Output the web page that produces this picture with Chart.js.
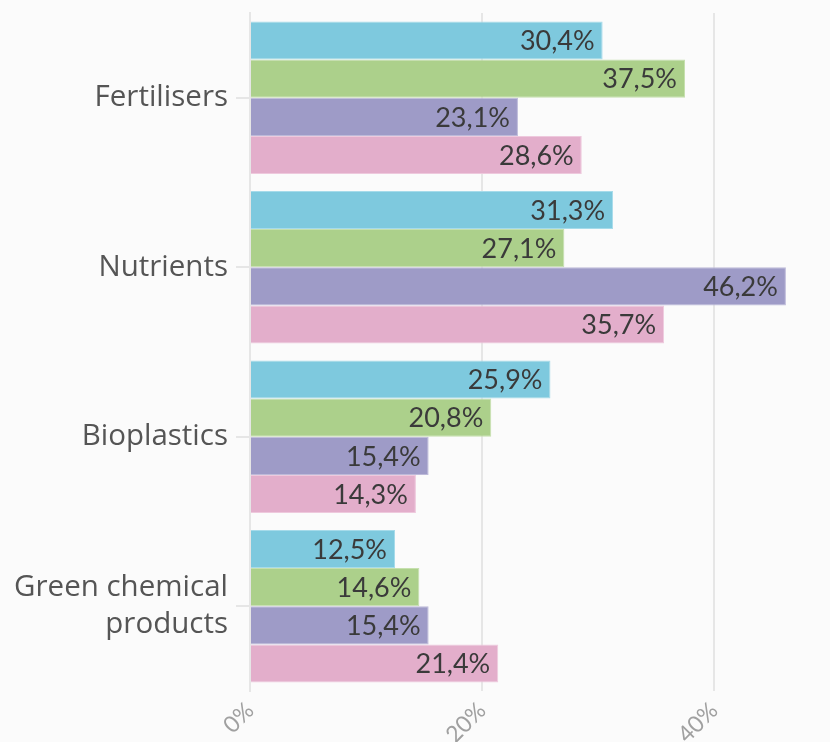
<!DOCTYPE html>
<html>
<head>
<meta charset="utf-8">
<script src="https://cdn.jsdelivr.net/npm/chart.js@4"></script>
<style>
  html, body { margin: 0; padding: 0; background: #fbfbfb; }
  #wrap { width: 830px; height: 742px; }
</style>
</head>
<body>
<div id="wrap"><canvas id="chart"></canvas></div>
<script>
const categories = ["Fertilisers", "Nutrients", "Bioplastics", ["Green chemical", "products"]];
const serieCyan = [30.4, 31.3, 25.9, 12.5];
const serieVert = [37.5, 27.1, 20.8, 14.6];
const serieViolet = [23.1, 46.2, 15.4, 15.4];
const serieRose = [28.6, 35.7, 14.3, 21.4];
const xTicks = [0, 20, 40];

// etiquettes de valeur a l'interieur du bout de la barre
const valueLabels = {
    id: "valueLabels",
    afterDatasetsDraw(chart) {
        const ctx = chart.ctx;
        ctx.save();
        ctx.font = "27px Lato";
        ctx.fillStyle = "#3a3a3a";
        ctx.textAlign = "right";
        ctx.textBaseline = "middle";
        chart.data.datasets.forEach((ds, i) => {
            chart.getDatasetMeta(i).data.forEach((bar, j) => {
                const txt = ds.data[j].toFixed(1).replace(".", ",") + "%";
                ctx.fillText(txt, bar.x - 8, bar.y + 1);
            });
        });
        ctx.restore();
    }
};

function makeSet(data, color, border) {
    return {
        data: data,
        backgroundColor: color,
        borderColor: border,
        borderWidth: 1,
        categoryPercentage: 0.9,
        barPercentage: 1.0
    };
}

new Chart(document.getElementById("chart"), {
    type: "bar",
    data: {
        labels: categories,
        datasets: [
            makeSet(serieCyan, "#7ec9de", "#a6dbea"),
            makeSet(serieVert, "#acd08b", "#c6e0ae"),
            makeSet(serieViolet, "#9e9bc7", "#bdbad9"),
            makeSet(serieRose, "#e3aecb", "#eec9dd")
        ]
    },
    options: {
        indexAxis: "y",
        responsive: true,
        maintainAspectRatio: false,
        animation: false,
        layout: { padding: { top: 13, right: 0, left: 0, bottom: 0 } },
        plugins: {
            legend: { display: false },
            tooltip: { enabled: false }
        },
        scales: {
            x: {
                min: 0,
                max: 50,
                afterBuildTicks(axis) {
                    axis.ticks = xTicks.map(v => ({ value: v }));
                },
                afterFit(axis) {
                    axis.height = 51;
                    axis.paddingLeft = 0;
                    axis.paddingRight = 0;
                },
                grid: {
                    color: "#e6e6e6",
                    lineWidth: 2,
                    drawTicks: false
                },
                border: { display: false },
                ticks: {
                    minRotation: 45,
                    maxRotation: 45,
                    padding: 6,
                    color: "#a0a0a0",
                    font: { family: "Lato", size: 23 },
                    callback: v => v + "%"
                }
            },
            y: {
                afterFit(axis) {
                    axis.width = 250;
                    axis.paddingTop = 0;
                    axis.paddingBottom = 0;
                },
                grid: {
                    offset: false,
                    drawOnChartArea: false,
                    color: "#e6e6e6",
                    lineWidth: 2,
                    tickLength: 14
                },
                border: { color: "#e6e6e6", width: 2 },
                ticks: {
                    padding: 8,
                    color: "#555555",
                    font: { family: "Open Sans", size: 29.5, lineHeight: 1.26 }
                }
            }
        }
    },
    plugins: [valueLabels]
});
</script>
</body>
</html>
